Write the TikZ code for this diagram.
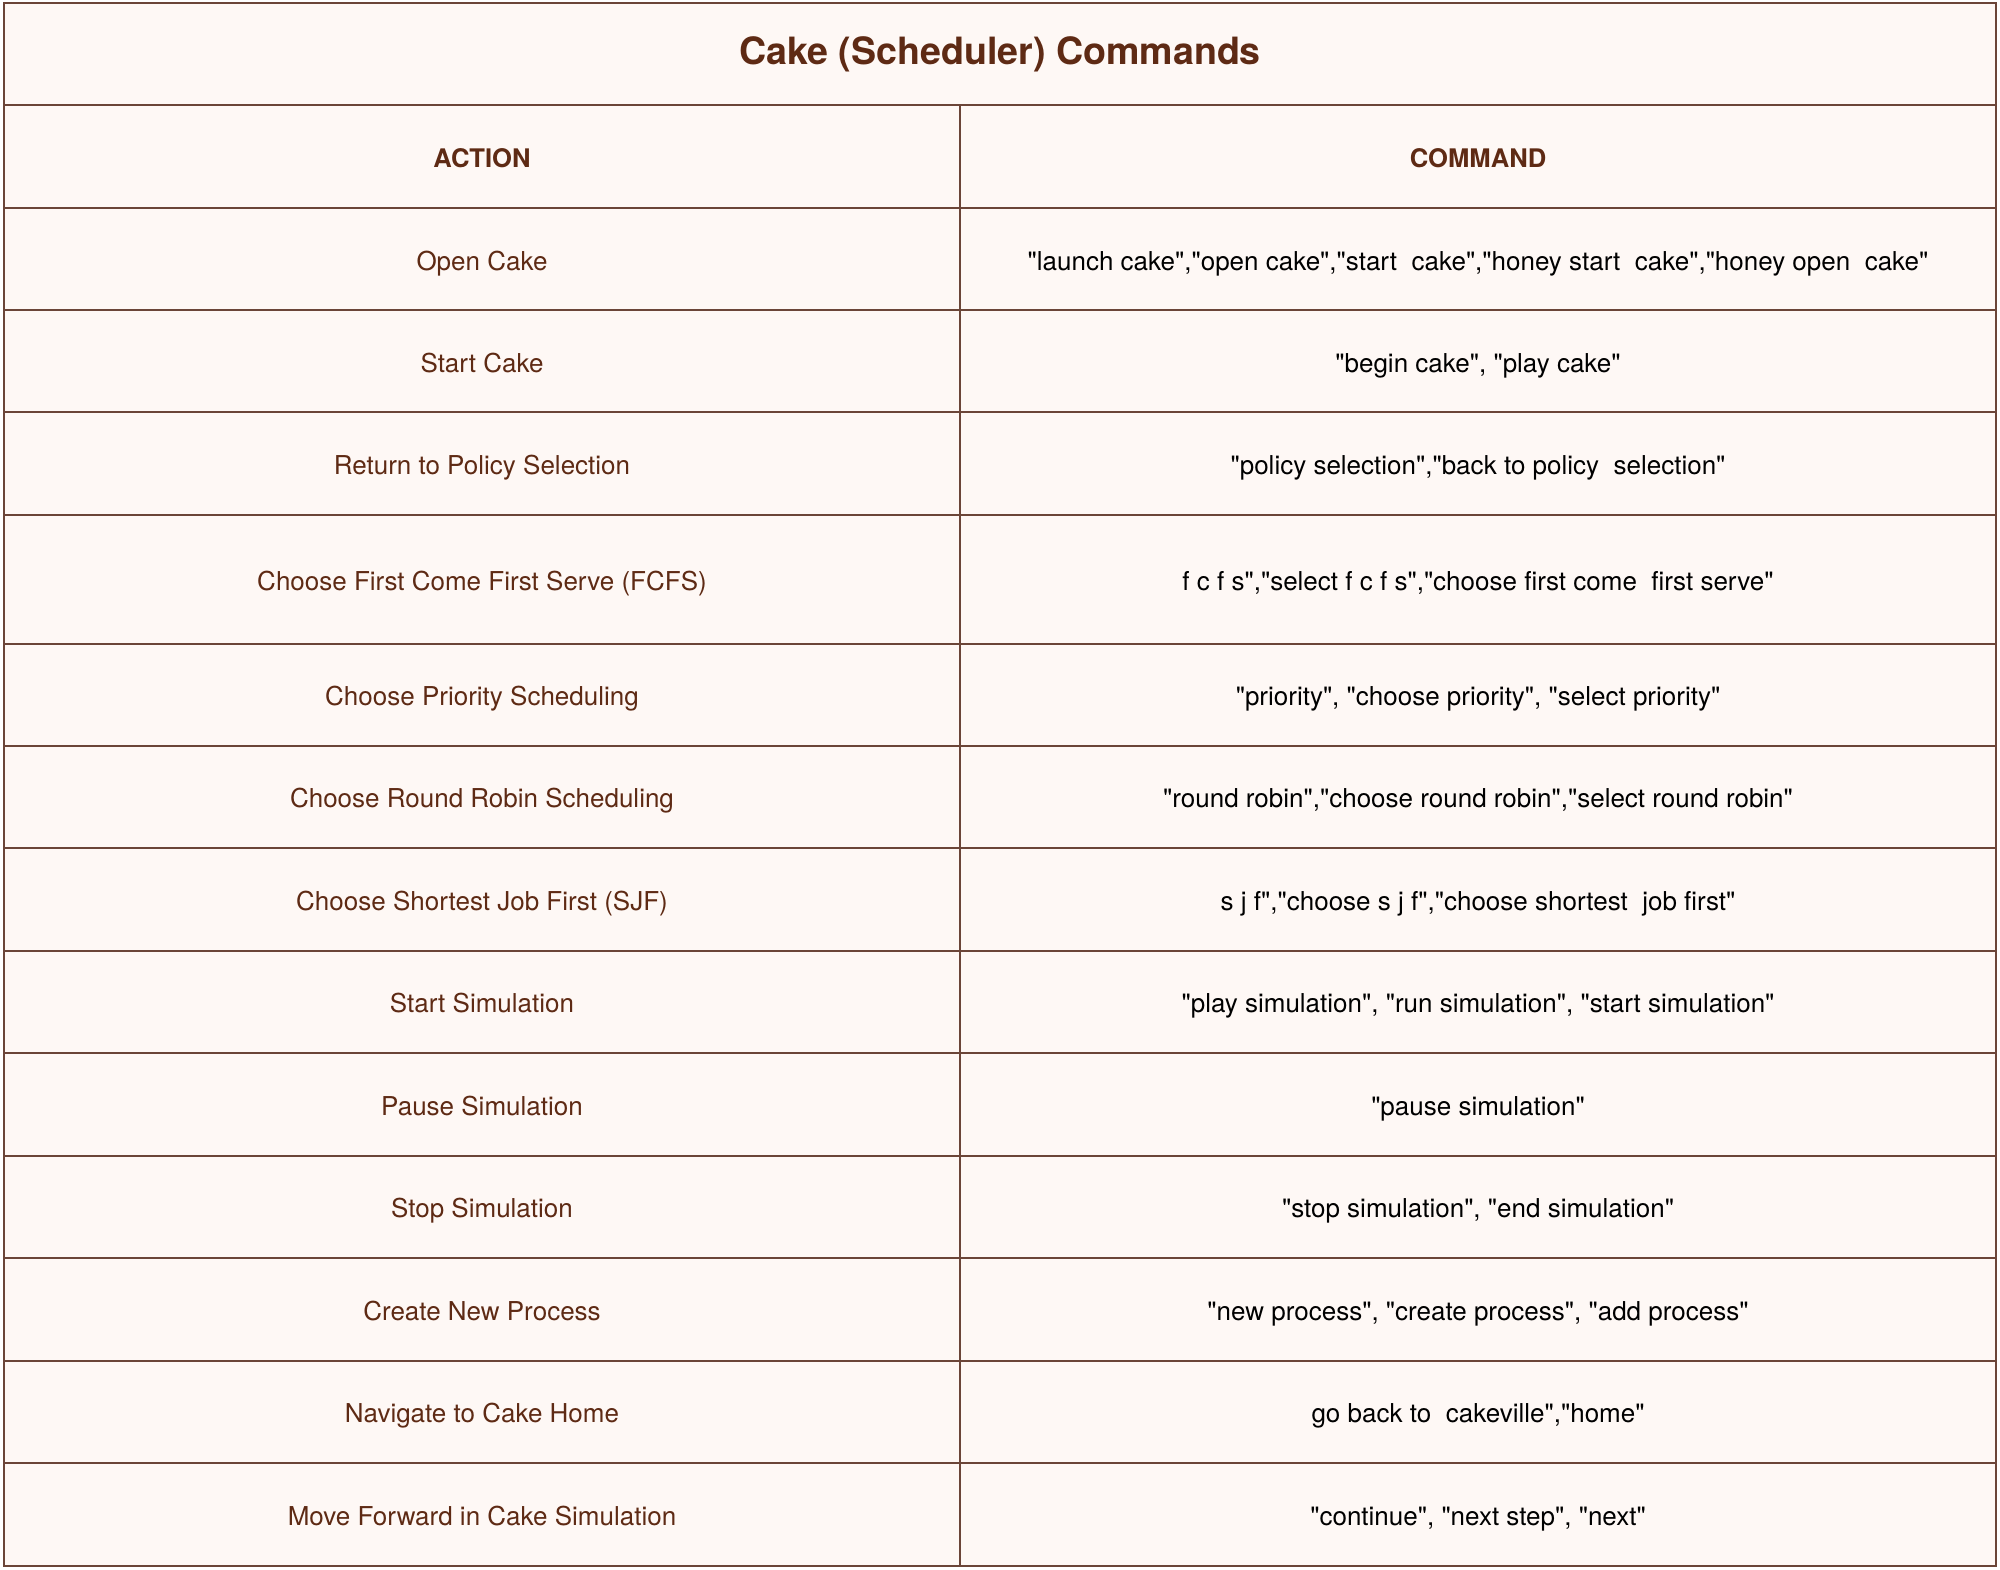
\documentclass[tikz,border=0pt]{standalone}
\usepackage{fontspec}
\setmainfont{TeX Gyre Heros}
\definecolor{bg}{HTML}{FEF8F5}
\definecolor{brn}{HTML}{5E2A14}
\definecolor{grid}{HTML}{6B4538}
\newcommand\dq{\textquotedbl}
\tikzset{
  act/.style={text=brn, font=\fontsize{13}{15}\selectfont, anchor=base, inner sep=0pt},
  cmd/.style={text=black, font=\fontsize{13}{15}\selectfont, anchor=base, inner sep=0pt},
  hdr/.style={text=brn, font=\fontsize{12.8}{15}\selectfont\bfseries, anchor=center, inner sep=0pt},
  ttl/.style={text=brn, font=\fontsize{18.8}{22}\selectfont\bfseries, anchor=center, inner sep=0pt},
  gridline/.style={draw=grid, line width=0.6pt}
}
\begin{document}
\begin{tikzpicture}[x=0.5pt,y=-0.5pt]
\useasboundingbox[fill=white] (0,0) rectangle (2000,1569);
\fill[bg] (4,3) rectangle (1996,1566);
% horizontal lines
\foreach \yy in {105,208,310,412,515,644,746,848,951,1053,1156,1258,1361,1463}
  \draw[gridline] (4,\yy) -- (1996,\yy);
\draw[gridline] (960,105) -- (960,1566);
\draw[gridline] (4,3) rectangle (1996,1566);
% title
\node[ttl] (title) at (1000,54) {Cake (Scheduler) Commands};
\node[hdr] (ha) at (482,158) {ACTION};
\node[hdr] (hc) at (1478,158) {COMMAND};
% rows (baseline = row centre + 10)
\node[act] (a1) at (482,270) {Open Cake};
\node[cmd] (c1) at (1478,270) {\dq launch cake\dq,\dq open cake\dq,\dq start\ \ cake\dq,\dq honey start\ \ cake\dq,\dq honey open\ \ cake\dq};
\node[act] (a2) at (482,372) {Start Cake};
\node[cmd] (c2) at (1478,372) {\dq begin cake\dq, \dq play cake\dq};
\node[act] (a3) at (482,474) {Return to Policy Selection};
\node[cmd] (c3) at (1478,474) {\dq policy selection\dq,\dq back to policy\ \ selection\dq};
\node[act] (a4) at (482,590) {Choose First Come First Serve (FCFS)};
\node[cmd] (c4) at (1478,590) {f c f s\dq,\dq select f c f s\dq,\dq choose first come\ \ first serve\dq};
\node[act] (a5) at (482,705) {Choose Priority Scheduling};
\node[cmd] (c5) at (1478,705) {\dq priority\dq, \dq choose priority\dq, \dq select priority\dq};
\node[act] (a6) at (482,807) {Choose Round Robin Scheduling};
\node[cmd] (c6) at (1478,807) {\dq round robin\dq,\dq choose round robin\dq,\dq select round robin\dq};
\node[act] (a7) at (482,910) {Choose Shortest Job First (SJF)};
\node[cmd] (c7) at (1478,910) {s j f\dq,\dq choose s j f\dq,\dq choose shortest\ \ job first\dq};
\node[act] (a8) at (482,1012) {Start Simulation};
\node[cmd] (c8) at (1478,1012) {\dq play simulation\dq, \dq run simulation\dq, \dq start simulation\dq};
\node[act] (a9) at (482,1115) {Pause Simulation};
\node[cmd] (c9) at (1478,1115) {\dq pause simulation\dq};
\node[act] (a10) at (482,1217) {Stop Simulation};
\node[cmd] (c10) at (1478,1217) {\dq stop simulation\dq, \dq end simulation\dq};
\node[act] (a11) at (482,1320) {Create New Process};
\node[cmd] (c11) at (1478,1320) {\dq new process\dq, \dq create process\dq, \dq add process\dq};
\node[act] (a12) at (482,1422) {Navigate to Cake Home};
\node[cmd] (c12) at (1478,1422) {go back to\ \ cakeville\dq,\dq home\dq};
\node[act] (a13) at (482,1525) {Move Forward in Cake Simulation};
\node[cmd] (c13) at (1478,1525) {\dq continue\dq, \dq next step\dq, \dq next\dq};
\end{tikzpicture}
\end{document}
